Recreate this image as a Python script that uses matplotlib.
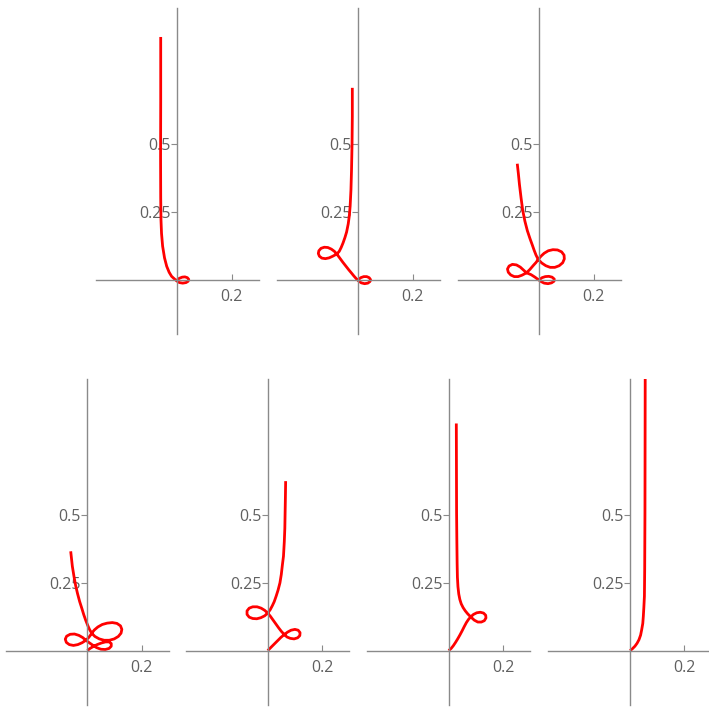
import matplotlib
matplotlib.use("Agg")
import matplotlib.pyplot as plt

# ---- data: curve snapshots (x, y) ----
c1_x = [0.0, 0.008, 0.018, 0.028, 0.037, 0.042, 0.040, 0.032, 0.020, 0.008, -0.002, -0.010,
        -0.021, -0.030, -0.039, -0.047, -0.054, -0.058, -0.060, -0.061, -0.0615, -0.061, -0.061]
c1_y = [0.0, 0.005, 0.009, 0.010, 0.007, 0.001, -0.006, -0.011, -0.013, -0.011, -0.005, 0.002,
        0.012, 0.027, 0.049, 0.080, 0.123, 0.170, 0.220, 0.300, 0.450, 0.650, 0.892]

c2_x = [0.0, 0.009, 0.020, 0.031, 0.040, 0.045, 0.043, 0.035, 0.023, 0.011, 0.001,
        -0.008, -0.016, -0.025, -0.035, -0.046, -0.057, -0.068, -0.079,
        -0.088, -0.099, -0.112, -0.125, -0.137, -0.145, -0.147, -0.143, -0.134, -0.121,
        -0.107, -0.094, -0.079,
        -0.070, -0.063, -0.056, -0.049, -0.043, -0.037, -0.033, -0.030, -0.027, -0.025,
        -0.023, -0.022, -0.022]
c2_y = [0.0, 0.007, 0.011, 0.011, 0.007, 0.000, -0.007, -0.013, -0.015, -0.012, -0.005,
        0.004, 0.013, 0.024, 0.036, 0.050, 0.064, 0.079, 0.094,
        0.104, 0.112, 0.118, 0.119, 0.115, 0.106, 0.096, 0.086, 0.079, 0.077,
        0.080, 0.086, 0.094,
        0.104, 0.118, 0.135, 0.155, 0.175, 0.205, 0.235, 0.270, 0.330, 0.400,
        0.500, 0.600, 0.705]

c3_x = [0.0, 0.010, 0.022, 0.035, 0.047, 0.055, 0.054, 0.045, 0.032, 0.018, 0.006,
        -0.005, -0.016, -0.030, -0.047,
        -0.058, -0.070, -0.084, -0.099, -0.111, -0.117, -0.114, -0.105, -0.092, -0.078,
        -0.064, -0.047,
        -0.034, -0.022, -0.012, -0.004,
        0.006, 0.018, 0.033, 0.050, 0.067, 0.082, 0.091, 0.092, 0.086, 0.073, 0.057,
        0.040, 0.024, 0.009, -0.004,
        -0.012, -0.019, -0.026, -0.034, -0.044, -0.053, -0.061, -0.067, -0.073, -0.077, -0.081]
c3_y = [0.0, 0.007, 0.011, 0.012, 0.009, 0.002, -0.006, -0.012, -0.015, -0.013, -0.007,
        0.001, 0.009, 0.018, 0.025,
        0.035, 0.046, 0.054, 0.056, 0.050, 0.039, 0.027, 0.017, 0.011, 0.011,
        0.016, 0.025,
        0.038, 0.052, 0.063, 0.074,
        0.086, 0.097, 0.106, 0.110, 0.109, 0.102, 0.090, 0.076, 0.062, 0.051, 0.045,
        0.045, 0.051, 0.061, 0.074,
        0.090, 0.108, 0.128, 0.150, 0.180, 0.215, 0.255, 0.300, 0.350, 0.390, 0.426]

c4_x = [0.0, 0.010, 0.022, 0.036, 0.052, 0.067, 0.080, 0.088, 0.088, 0.080, 0.066, 0.050,
        0.034, 0.020, 0.007, -0.005,
        -0.017, -0.031, -0.047, -0.063, -0.076, -0.081, -0.077, -0.066, -0.051, -0.035,
        -0.019, -0.005,
        0.005, 0.011, 0.016,
        0.026, 0.039, 0.055, 0.073, 0.092, 0.109, 0.122, 0.127, 0.124, 0.114, 0.099,
        0.081, 0.062, 0.044, 0.028, 0.016,
        0.008, 0.001, -0.006, -0.013, -0.020, -0.028, -0.036, -0.043, -0.049, -0.055, -0.061]
c4_y = [0.0, 0.008, 0.015, 0.022, 0.028, 0.032, 0.032, 0.026, 0.016, 0.008, 0.004, 0.005,
        0.011, 0.020, 0.029, 0.038,
        0.048, 0.056, 0.061, 0.060, 0.053, 0.042, 0.030, 0.022, 0.019, 0.022,
        0.029, 0.038,
        0.048, 0.056, 0.064,
        0.076, 0.087, 0.096, 0.101, 0.103, 0.100, 0.091, 0.078, 0.064, 0.052, 0.043,
        0.038, 0.038, 0.043, 0.052, 0.064,
        0.078, 0.094, 0.112, 0.132, 0.155, 0.180, 0.210, 0.240, 0.273, 0.310, 0.365]

c5_x = [0.0, 0.012, 0.024, 0.036, 0.048, 0.061, 0.073, 0.086, 0.100, 0.112, 0.119, 0.118,
        0.110, 0.097, 0.083, 0.071, 0.061,
        0.050, 0.040, 0.030, 0.020, 0.010, 0.0,
        -0.011, -0.024, -0.039, -0.055, -0.068, -0.076, -0.076, -0.068, -0.055, -0.040,
        -0.025, -0.011, 0.0,
        0.009, 0.017, 0.024, 0.031, 0.038, 0.045, 0.050, 0.054, 0.058, 0.061, 0.063,
        0.064, 0.065, 0.066]
c5_y = [0.0, 0.012, 0.024, 0.036, 0.048, 0.059, 0.068, 0.075, 0.078, 0.075, 0.066, 0.055,
        0.047, 0.043, 0.045, 0.050, 0.059,
        0.071, 0.084, 0.098, 0.112, 0.126, 0.138,
        0.148, 0.156, 0.161, 0.161, 0.156, 0.146, 0.133, 0.123, 0.118, 0.117,
        0.121, 0.128, 0.138,
        0.150, 0.165, 0.180, 0.200, 0.222, 0.249, 0.280, 0.315, 0.347, 0.400, 0.450,
        0.506, 0.560, 0.623]

c6_x = [0.0, 0.009, 0.017, 0.025, 0.033, 0.041, 0.049, 0.057, 0.065, 0.073, 0.081,
        0.091, 0.103, 0.116, 0.128, 0.136, 0.137, 0.131, 0.120, 0.107, 0.094, 0.081,
        0.070, 0.061, 0.053, 0.046, 0.041, 0.037, 0.034, 0.032, 0.031, 0.030, 0.029, 0.028]
c6_y = [0.0, 0.008, 0.018, 0.030, 0.043, 0.057, 0.072, 0.088, 0.103, 0.115, 0.124,
        0.133, 0.139, 0.141, 0.138, 0.130, 0.120, 0.110, 0.105, 0.105, 0.112, 0.124,
        0.135, 0.146, 0.158, 0.172, 0.188, 0.208, 0.235, 0.270, 0.320, 0.400, 0.506, 0.835]

c7_x = [0.0, 0.008, 0.018, 0.026, 0.033, 0.039, 0.043, 0.047, 0.049, 0.051, 0.053, 0.054,
        0.055, 0.056]
c7_y = [0.0, 0.006, 0.016, 0.027, 0.040, 0.057, 0.077, 0.100, 0.126, 0.160, 0.200, 0.298,
        0.506, 1.05]

curves = [(c1_x, c1_y), (c2_x, c2_y), (c3_x, c3_y),
          (c4_x, c4_y), (c5_x, c5_y), (c6_x, c6_y), (c7_x, c7_y)]

x_ticks = [0.2]
x_ticklabels = ["0.2"]
y_ticks = [0.25, 0.5]
y_ticklabels = ["0.25", "0.5"]

# ---- layout ----
W, H = 709, 707
fig = plt.figure(figsize=(W / 100, H / 100), dpi=100)
plt.rcParams['font.family'] = ['Open Sans', 'DejaVu Sans']

aw, ah = 163.2, 326.4
top_lefts = [95.7, 276.7, 457.7]
bot_lefts = [5.7, 186.1, 367.1, 548.4]
positions = [(l, 334.0) for l in top_lefts] + [(l, 705.0) for l in bot_lefts]

axis_col = "#8a8a8a"
label_col = "#606060"

for (cx, cy), (l, b) in zip(curves, positions):
    ax = fig.add_axes([l / W, (H - b) / H, aw / W, ah / H])
    ax.set_xlim(-0.3, 0.3)
    ax.set_ylim(-0.2, 1.0)
    ax.plot(cx, cy, color="#ff0000", lw=2.0, solid_joinstyle="round", solid_capstyle="butt")
    for s in ["top", "right"]:
        ax.spines[s].set_visible(False)
    ax.spines["left"].set_position(("data", 0))
    ax.spines["bottom"].set_position(("data", 0))
    for s in ["left", "bottom"]:
        ax.spines[s].set_color(axis_col)
        ax.spines[s].set_linewidth(1.0)
    ax.set_xticks(x_ticks)
    ax.set_xticklabels(x_ticklabels)
    ax.set_yticks(y_ticks)
    ax.set_yticklabels(y_ticklabels)
    ax.tick_params(axis="x", direction="in", length=4, width=0.8, color=axis_col,
                   labelcolor=label_col, labelsize=11.5, pad=6.5)
    ax.tick_params(axis="y", direction="out", length=4, width=0.8, color=axis_col,
                   labelcolor=label_col, labelsize=11.5, pad=0.5)
    ax.patch.set_visible(False)

fig.savefig("out.png", dpi=100)
